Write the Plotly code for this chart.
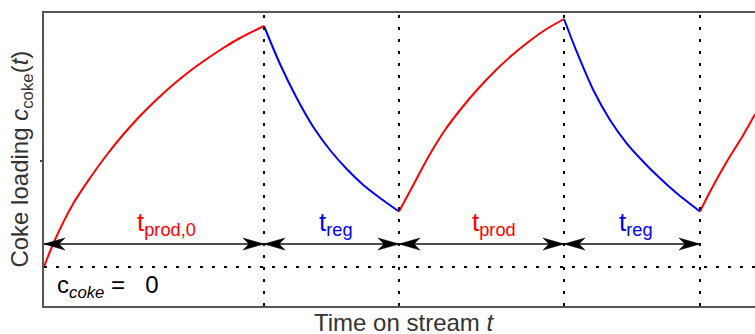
import plotly.graph_objects as go

# ---- data (time on stream t, coke loading c), arbitrary units ----
prod0_t = [0.00, 0.093, 0.293, 0.46, 0.627, 0.793, 0.96, 1.127, 1.293, 1.46, 1.627, 1.793, 1.96, 2.20]
prod0_c = [0.00, 0.235, 0.635, 0.89, 1.12, 1.325, 1.51, 1.675, 1.825, 1.96, 2.08, 2.19, 2.29, 2.41]

reg1_t = [2.20, 2.36, 2.527, 2.693, 2.86, 3.027, 3.193, 3.36, 3.55]
reg1_c = [2.41, 2.03, 1.69, 1.40, 1.17, 0.98, 0.82, 0.69, 0.555]

prod1_t = [3.55, 3.677, 3.843, 4.01, 4.177, 4.343, 4.51, 4.677, 4.843, 5.01, 5.20]
prod1_c = [0.555, 0.79, 1.10, 1.37, 1.59, 1.785, 1.96, 2.115, 2.25, 2.37, 2.48]

reg2_t = [5.20, 5.327, 5.493, 5.66, 5.827, 5.993, 6.16, 6.327, 6.56]
reg2_c = [2.48, 2.153, 1.77, 1.47, 1.237, 1.053, 0.887, 0.737, 0.555]

prod2_t = [6.56, 6.66, 6.827, 6.993, 7.11]
prod2_c = [0.555, 0.753, 1.053, 1.32, 1.527]

switch_times = [2.20, 3.55, 5.20, 6.56]          # vertical dotted lines
segment_bounds = [0.00, 2.20, 3.55, 5.20, 6.56]  # arrow intervals
segment_labels = ["t<sub>prod,0</sub>", "t<sub>reg</sub>", "t<sub>prod</sub>", "t<sub>reg</sub>"]
segment_kinds = ["prod", "reg", "prod", "reg"]
arrow_level = 0.23
c_zero = 0.0
x_range = [0.0, 7.11]
y_range = [-0.39, 2.54]
y_tickvals = [1.06]

RED = "#ff0000"
BLUE = "#0000ff"
FONT = "Liberation Sans, Arial, sans-serif"

fig = go.Figure()
for tt, cc, col in [(prod0_t, prod0_c, RED), (reg1_t, reg1_c, BLUE), (prod1_t, prod1_c, RED),
                    (reg2_t, reg2_c, BLUE), (prod2_t, prod2_c, RED)]:
    fig.add_trace(go.Scatter(x=tt, y=cc, mode="lines",
                             line=dict(color=col, width=2, shape="spline", smoothing=0.8),
                             hoverinfo="skip", showlegend=False, cliponaxis=True))

shapes = []
dot = dict(color="black", width=2, dash="3px,9px")
for v in switch_times:
    shapes.append(dict(type="line", xref="x", yref="paper", x0=v, x1=v, y0=0, y1=1, line=dot))
shapes.append(dict(type="line", xref="paper", yref="y", x0=0, x1=1, y0=c_zero, y1=c_zero, line=dot))

head_r = "M0,0 L-21,6 L-15,0 L-21,-6 Z"
head_l = "M0,0 L21,6 L15,0 L21,-6 Z"
annotations = []
for i in range(len(segment_bounds) - 1):
    a, b = segment_bounds[i], segment_bounds[i + 1]
    shapes.append(dict(type="line", xref="x", yref="y", x0=a, x1=b, y0=arrow_level, y1=arrow_level,
                       line=dict(color="#111", width=1.5)))
    for xa, p in [(a, head_l), (b, head_r)]:
        shapes.append(dict(type="path", xref="x", yref="y", xsizemode="pixel", ysizemode="pixel",
                           xanchor=xa, yanchor=arrow_level, path=p,
                           fillcolor="black", line=dict(color="black", width=0.5)))
    col = RED if segment_kinds[i] == "prod" else BLUE
    shift = 12 if segment_kinds[i] == "prod" else 4
    annotations.append(dict(x=(a + b) / 2, y=arrow_level, xref="x", yref="y", xshift=shift, yshift=2,
                            text=segment_labels[i], showarrow=False, xanchor="center", yanchor="bottom",
                            font=dict(family=FONT, size=26, color=col)))

annotations.append(dict(x=0.016, y=-0.19, xref="paper", yref="y",
                        text="c<sub><i>coke</i></sub>\u00a0=\u00a0\u00a0\u00a00",
                        showarrow=False, xanchor="left", yanchor="middle",
                        font=dict(family=FONT, size=24, color="black")))
annotations.append(dict(x=0.5077, y=0, xref="paper", yref="paper", yshift=-1,
                        text="Time on stream <i>t</i>", showarrow=False, xanchor="center", yanchor="top",
                        font=dict(family=FONT, size=24, color="#333")))
annotations.append(dict(x=-0.031, y=0.503, xref="paper", yref="paper", textangle=-90,
                        text="Coke loading <i>c</i><sub>coke</sub>(<i>t</i>)", showarrow=False,
                        xanchor="center", yanchor="middle",
                        font=dict(family=FONT, size=24, color="#333")))

fig.update_layout(
    width=755, height=334,
    margin=dict(l=44, r=0, t=13, b=28),
    paper_bgcolor="white", plot_bgcolor="white",
    shapes=shapes, annotations=annotations,
    xaxis=dict(range=x_range, showgrid=False, zeroline=False, showticklabels=False, ticks="",
               showline=True, mirror=True, linecolor="#555", linewidth=1.5),
    yaxis=dict(range=y_range, showgrid=False, zeroline=False, showticklabels=False,
               tickvals=y_tickvals, ticks="outside", ticklen=2, tickwidth=2, tickcolor="#444",
               showline=True, linecolor="#555", linewidth=1.5),
)

fig.write_html("out.html")
